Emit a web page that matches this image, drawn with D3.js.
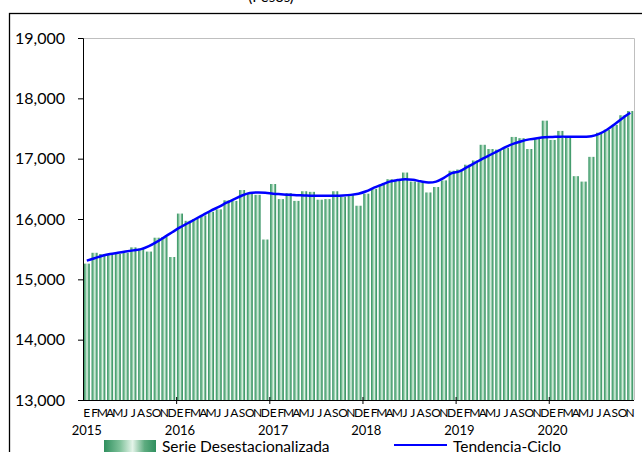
<!DOCTYPE html>
<html>
  <head>
    <meta charset="utf-8">
    <title>Serie y tendencia</title>
    <script src="https://cdn.jsdelivr.net/npm/d3@7/dist/d3.min.js"></script>
    <style>
      body { margin: 0; background: #fff; }
      svg { display: block; font-family: Lato, "Open Sans", sans-serif; }
    </style>
  </head>
  <body>
    <svg id="chart" width="642" height="452"></svg>
    <script>
      // meses y años del eje x
      var monthLetters = ["E","F","M","A","M","J","J","A","S","O","N","D"];
      var years = [2015, 2016, 2017, 2018, 2019, 2020];
      var yTicks = [13000, 14000, 15000, 16000, 17000, 18000, 19000];

      // Serie desestacionalizada, ene 2015 - nov 2020
      var serie = [
        15260, 15440, 15420, 15410, 15420, 15440, 15530, 15510, 15460, 15690, 15700, 15370,
        16090, 15970, 16000, 16060, 16120, 16160, 16310, 16300, 16480, 16420, 16400, 15660,
        16580, 16330, 16430, 16300, 16460, 16450, 16320, 16330, 16460, 16370, 16400, 16220,
        16420, 16500, 16570, 16660, 16640, 16770, 16620, 16610, 16440, 16530, 16640, 16800,
        16820, 16900, 16970, 17230, 17160, 17150, 17180, 17360, 17340, 17160, 17330, 17630,
        17310, 17460, 17350, 16710, 16620, 17030, 17430, 17480, 17560, 17720, 17790
      ];
      // Tendencia-Ciclo
      var tendencia = [
        15310, 15350, 15390, 15420, 15440, 15460, 15480, 15500, 15550, 15620, 15700, 15780,
        15860, 15930, 16000, 16070, 16140, 16200, 16270, 16330, 16390, 16430, 16440, 16435,
        16420, 16410, 16400, 16395, 16390, 16385, 16385, 16385, 16385, 16390, 16400, 16420,
        16460, 16520, 16570, 16620, 16645, 16660, 16650, 16625, 16605, 16620, 16680, 16760,
        16790, 16860, 16930, 17000, 17065, 17130, 17195, 17250, 17290, 17320, 17340, 17355,
        17360, 17365, 17365, 17365, 17365, 17370, 17410, 17480, 17570, 17670, 17760
      ];

      var pL = 83, pR = 634, pT = 38, pB = 400;
      var svg = d3.select("#chart");

      var grad = svg.append("defs").append("linearGradient")
        .attr("id", "barGrad").attr("x1", 0).attr("x2", 1).attr("y1", 0).attr("y2", 0);
      [[0, "#2f8f5e"], [0.3, "#7cc098"], [0.55, "#e4f4e9"], [0.78, "#5eac80"], [1, "#2f8f5e"]]
        .forEach(function(s) {
          grad.append("stop").attr("offset", s[0]).attr("stop-color", s[1]);
        });

      // marco exterior
      svg.append("rect").attr("x", 9.5).attr("y", 13.5).attr("width", 700).attr("height", 500)
        .attr("fill", "none").attr("stroke", "#000").attr("stroke-width", 1.3);

      // titulo (cortado arriba)
      svg.append("text").attr("x", 271).attr("y", 2).attr("text-anchor", "middle")
        .attr("font-size", 15).text("(Pesos)");

      var idx = d3.range(serie.length);
      var x = d3.scaleBand().domain(idx).range([pL, pR]).paddingInner(0.22).paddingOuter(0.1);
      var y = d3.scaleLinear().domain([13000, 19000]).range([pB, pT]);
      var step = x.step();
      var yearX = d3.scaleLinear().domain([2015, 2021]).range([pL, pL + 72 * step]);

      // borde del area de trazado
      svg.append("path")
        .attr("d", "M" + pL + "," + (pT + 0.5) + "H" + (pR + 0.5) + "V" + pB)
        .attr("fill", "none").attr("stroke", "#bfbfbf");

      svg.append("g").selectAll("rect").data(serie).join("rect")
        .attr("x", function(d, i) { return x(i); })
        .attr("width", x.bandwidth())
        .attr("y", function(d) { return y(d); })
        .attr("height", function(d) { return pB - y(d); })
        .attr("fill", "url(#barGrad)");

      var line = d3.line()
        .x(function(d, i) { return x(i) + x.bandwidth() / 2; })
        .y(function(d) { return y(d); })
        .curve(d3.curveCatmullRom);
      svg.append("path").datum(tendencia).attr("d", line)
        .attr("fill", "none").attr("stroke", "#0000ff").attr("stroke-width", 2.5);

      // eje y
      var yAxis = svg.append("g").attr("transform", "translate(" + pL + ",0)")
        .call(d3.axisLeft(y).tickValues(yTicks).tickFormat(d3.format(",")).tickSize(5).tickPadding(13));
      yAxis.selectAll("text").attr("font-size", 16).attr("fill", "#000").attr("font-family", "Lato");
      yAxis.select(".domain").attr("stroke", "#000");

      // eje x
      var xAxis = svg.append("g").attr("transform", "translate(0," + pB + ")")
        .call(d3.axisBottom(yearX).tickValues(years.slice(1)).tickFormat("").tickSizeOuter(0));
      xAxis.selectAll(".tick line").attr("y1", -3).attr("y2", 4);
      xAxis.select(".domain").attr("d", "M" + pL + ",0.5H" + pR);

      svg.append("g").selectAll("text").data(idx).join("text")
        .attr("x", function(i) { return x(i) + x.bandwidth() / 2; })
        .attr("y", 417)
        .attr("text-anchor", "middle")
        .attr("font-size", 12)
        .text(function(i) { return monthLetters[i % 12]; });

      svg.append("g").selectAll("text").data(years).join("text")
        .attr("x", function(d) { return x((d - 2015) * 12) + x.bandwidth() / 2; })
        .attr("y", 435)
        .attr("text-anchor", "middle")
        .attr("font-size", 13)
        .text(function(d) { return d; });

      // leyenda
      var leg = svg.append("g");
      leg.append("rect").attr("x", 104).attr("y", 440).attr("width", 52).attr("height", 14)
        .attr("fill", "url(#barGrad)");
      leg.append("text").attr("x", 162).attr("y", 452).attr("font-size", 15.5).text("Serie Desestacionalizada");
      leg.append("line").attr("x1", 394).attr("x2", 447).attr("y1", 445).attr("y2", 445)
        .attr("stroke", "#0000ff").attr("stroke-width", 2);
      leg.append("text").attr("x", 453).attr("y", 452).attr("font-size", 15.5).text("Tendencia-Ciclo");
    </script>
  </body>
</html>
